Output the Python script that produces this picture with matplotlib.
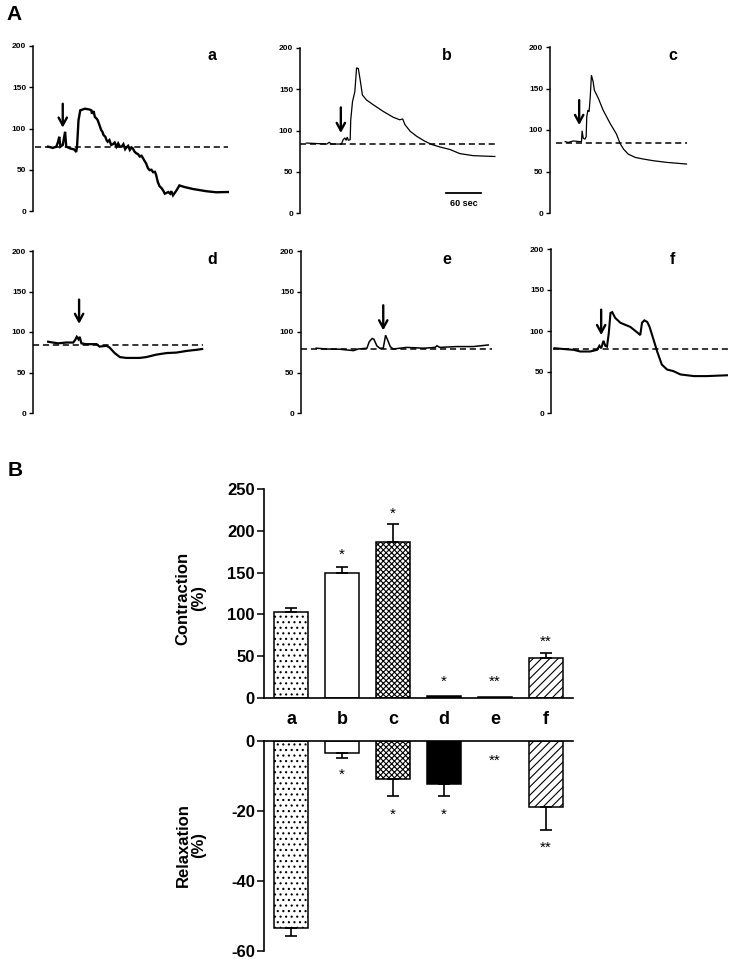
import matplotlib
matplotlib.use("Agg")
import matplotlib.pyplot as plt

plt.rcParams['font.family'] = ['Liberation Sans', 'DejaVu Sans']
plt.rcParams['hatch.linewidth'] = 0.8
plt.rcParams['axes.unicode_minus'] = False

# ---------------- traces (time in s, tension %) ----------------
a_t = [26, 34, 40, 43, 45, 47, 51, 53, 55, 57, 63, 71, 74, 75.5, 78, 81, 89, 97, 100, 101, 103, 104,
       106, 109, 111, 113, 115, 117, 119, 121, 124, 126, 128, 131, 134, 137, 140, 143, 146, 149, 152,
       155, 158, 160, 163, 166, 169, 171, 174, 177, 180, 183, 186, 189, 191, 194, 197, 200, 203, 206,
       209, 211, 214, 217, 220, 223, 226, 229, 232, 235, 237, 240, 246, 251, 260, 274, 297, 314, 334]
a_v = [78, 76.5, 78, 84, 90, 78, 80, 88, 96, 78, 76, 74.5, 71.5, 78, 110, 122, 124, 123, 122, 118, 120, 121,
       114, 112, 110, 106, 102, 98, 96, 92, 90, 86, 84, 86, 80, 81, 83, 78, 82, 78, 78,
       81, 75, 77, 79, 74, 77, 76, 72, 70, 69, 66, 67, 63.5, 61, 57.5, 52, 49.5, 50, 47,
       47.5, 44, 35, 30, 28, 25, 21, 22, 23, 21, 24, 19, 25, 31, 29, 26.7, 24, 22.7, 23]
a_base = 77.7

b_t = [11, 46, 50, 54, 71, 74, 77, 79, 81, 83, 86, 87, 90, 94, 97, 100, 103, 107, 114, 126, 143, 160,
       171, 176, 180, 189, 200, 214, 226, 240, 257, 274, 297, 326, 334]
b_v = [84.8, 83.6, 85.7, 83.6, 83.6, 88.9, 91, 88, 92, 88, 89, 113, 135, 147, 176, 175, 162, 143, 137,
       131, 123, 116, 113, 114, 107, 99, 93, 87, 83, 80, 77, 72, 69.5, 68.7, 68.5]
b_base = 83.6

c_t = [26, 31, 40, 51, 54, 55, 57, 60, 62, 63, 65, 67, 69, 71, 74, 76, 83, 91, 103, 114, 120, 126,
       134, 146, 160, 177, 200, 217, 234]
c_v = [86, 85, 86.8, 86, 86, 99, 90, 89, 92, 116, 124, 122, 140, 166, 158, 148, 138, 124, 108, 95, 84,
       77, 71, 67, 65, 63, 61, 60, 59]
c_base = 84

d_t = [26, 34, 43, 57, 69, 73, 75, 78, 80, 83, 91, 109, 114, 126, 131, 140, 149, 160, 183, 194, 211,
       229, 246, 263, 280, 290]
d_v = [88, 87, 86, 87, 87, 91, 94, 91, 94, 86, 85, 85, 82, 83, 81, 74, 69, 68, 68, 69, 72, 74, 74.6,
       76.6, 78, 79]
d_base = 84

e_t = [26, 44, 67, 90, 98, 113, 117, 122, 125, 130, 135, 141, 145, 148, 153, 158, 181, 210, 230, 233,
       238, 267, 295, 321]
e_v = [80, 79, 78.7, 77, 79, 80, 88, 92, 91, 83, 80, 80, 96, 91, 82, 79, 81, 80, 81, 83, 81, 82, 82, 84]
e_base = 79

f_t = [6, 22, 39, 50, 67, 79, 83, 86, 90, 93, 96, 99, 102, 105, 110, 119, 136, 150, 153, 156, 160,
       165, 169, 176, 182, 190, 199, 210, 222, 245, 267, 302]
f_v = [79, 78, 77, 75, 75, 77, 82, 79, 88, 82, 81, 97, 122, 123, 116, 110, 105, 97, 95, 110, 113, 111,
       105, 89, 75, 59, 53, 51, 47, 45, 45, 46]
f_base = 78

# arrow: (time, top, tip)
arrows = {'a': (51, 130, 101), 'b': (70, 128, 97), 'c': (50, 136, 106),
          'd': (79, 140, 110), 'e': (141, 133, 102), 'f': (86, 126, 95)}

trace_ticks = [0, 50, 100, 150, 200]

# ---------------- bars ----------------
groups = ['a', 'b', 'c', 'd', 'e', 'f']
contraction = [103, 149, 187, 2, 1.5, 48]
contraction_err = [5, 8, 21, 0, 0, 6]
contraction_sig = ['', '*', '*', '*', '**', '**']
relaxation = [-53.5, -3.4, -10.9, -12.3, 0, -18.9]
relaxation_err = [2.2, 1.5, 4.8, 3.4, 0, 6.5]
relaxation_sig = ['', '*', '*', '*', '**', '**']
contraction_ticks = [0, 50, 100, 150, 200, 250]
relaxation_ticks = [-60, -40, -20, 0]

# ---------------- figure ----------------
W, H = 731, 959
fig = plt.figure(figsize=(W / 100, H / 100), dpi=100)
SEC_PER_PX = 60 / 35


def add_ax(l, t, r, b):
    return fig.add_axes([l / W, 1 - b / H, (r - l) / W, (b - t) / H])


panels = [
    ('a', a_t, a_v, a_base, (33, 46, 230, 211), 1.7, (3, 334), (212, 55)),
    ('b', b_t, b_v, b_base, (300, 48, 497, 213), 0.9, (0, 338), (447, 55)),
    ('c', c_t, c_v, c_base, (550, 47, 690, 213), 0.9, (10, 234), (673, 55)),
    ('d', d_t, d_v, d_base, (33, 251, 205, 413), 1.6, (0, 292), (212, 259)),
    ('e', e_t, e_v, e_base, (301, 251, 492, 413), 1.1, (0, 327), (447, 259)),
    ('f', f_t, f_v, f_base, (551, 249, 728, 413), 1.5, (4, 303), (672, 260)),
]

for name, t, v, base, box, lw, dash, lab in panels:
    l, tp, r, b = box
    ax = add_ax(l, tp, r, b)
    ax.plot(t, v, color='black', lw=lw, solid_joinstyle='miter')
    ax.plot(list(dash), [base, base], color='black', lw=1.1, linestyle=(0, (4, 2.5)))
    at, atop, atip = arrows[name]
    ax.annotate('', xy=(at, atip), xytext=(at, atop),
                arrowprops=dict(arrowstyle='->,head_length=0.55,head_width=0.3', lw=1.7, color='black',
                                shrinkA=0, shrinkB=0))
    ax.set_xlim(0, (r - l) * SEC_PER_PX)
    ax.set_ylim(0, 200)
    ax.set_yticks(trace_ticks)
    ax.set_xticks([])
    for s in ['top', 'right', 'bottom']:
        ax.spines[s].set_visible(False)
    ax.spines['left'].set_linewidth(1.1)
    ax.tick_params(axis='y', length=3, width=1, pad=2, labelsize=6)
    for tl in ax.get_yticklabels():
        tl.set_fontweight('bold')
    ax.patch.set_alpha(0)
    fig.text(lab[0] / W, 1 - lab[1] / H, name, fontsize=11.5, fontweight='bold', ha='center', va='center')
    if name == 'b':
        ax.plot([250, 310], [24, 24], color='black', lw=1.3)
        ax.text(280, 17, '60 sec', fontsize=6.5, fontweight='bold', ha='center', va='top')

fig.text(14 / W, 1 - 14 / H, 'A', fontsize=15, fontweight='bold', ha='center', va='center')
fig.text(15 / W, 1 - 470 / H, 'B', fontsize=15, fontweight='bold', ha='center', va='center')

# bar styles
hatches = ['...', None, 'xxxxxx', None, None, '////']
faces = ['white', 'white', 'white', 'black', 'black', 'white']

x = list(range(len(groups)))
ax_up = add_ax(264, 489, 573, 698)
ax_lo = add_ax(264, 741, 573, 951)

for i in x:
    ax_up.bar(i, contraction[i], width=0.65, color=faces[i], edgecolor='black', lw=1.1,
              hatch=hatches[i], zorder=2)
    if contraction_err[i] > 0:
        ax_up.errorbar(i, contraction[i], yerr=[[0], [contraction_err[i]]], color='black',
                       lw=1.2, capsize=4.5, capthick=1.2, zorder=3)
    if relaxation[i] != 0:
        ax_lo.bar(i, relaxation[i], width=0.65, color=faces[i], edgecolor='black', lw=1.1,
                  hatch=hatches[i], zorder=2)
    if relaxation_err[i] > 0:
        ax_lo.errorbar(i, relaxation[i], yerr=[[relaxation_err[i]], [0]], color='black',
                       lw=1.2, capsize=4.5, capthick=1.2, zorder=3)

# significance marks
up_star_y = [0, 171, 220, 19.5, 19.5, 67]
lo_star_y = [0, -9.6, -21.0, -21.0, -5.6, -30.4]
for i in x:
    if contraction_sig[i]:
        ax_up.text(i, up_star_y[i], contraction_sig[i], ha='center', va='center', fontsize=11)
    if relaxation_sig[i]:
        ax_lo.text(i, lo_star_y[i], relaxation_sig[i], ha='center', va='center', fontsize=11)

for ax, lim, ticks in [(ax_up, (0, 250), contraction_ticks), (ax_lo, (-60, 0), relaxation_ticks)]:
    ax.set_xlim(-0.53, 5.53)
    ax.set_ylim(*lim)
    ax.set_yticks(ticks)
    ax.set_xticks([])
    ax.spines['right'].set_visible(False)
    ax.tick_params(axis='y', length=5, width=1.1, pad=1.5, labelsize=12)
    for tl in ax.get_yticklabels():
        tl.set_fontweight('bold')
    for s in ax.spines.values():
        s.set_linewidth(1.2)
    ax.patch.set_alpha(0)

ax_up.spines['top'].set_visible(False)
ax_lo.spines['bottom'].set_visible(False)

for i, g in enumerate(groups):
    ax_lo.text(i, 6.1, g, ha='center', va='center', fontsize=13, fontweight='bold', clip_on=False)

fig.text(183 / W, 1 - 598 / H, 'Contraction', rotation=90, fontsize=12, fontweight='bold',
         ha='center', va='center')
fig.text(199 / W, 1 - 598 / H, '(%)', rotation=90, fontsize=12, fontweight='bold',
         ha='center', va='center')
fig.text(183 / W, 1 - 845 / H, 'Relaxation', rotation=90, fontsize=12, fontweight='bold',
         ha='center', va='center')
fig.text(199 / W, 1 - 845 / H, '(%)', rotation=90, fontsize=12, fontweight='bold',
         ha='center', va='center')

fig.savefig('out.png', dpi=100)
